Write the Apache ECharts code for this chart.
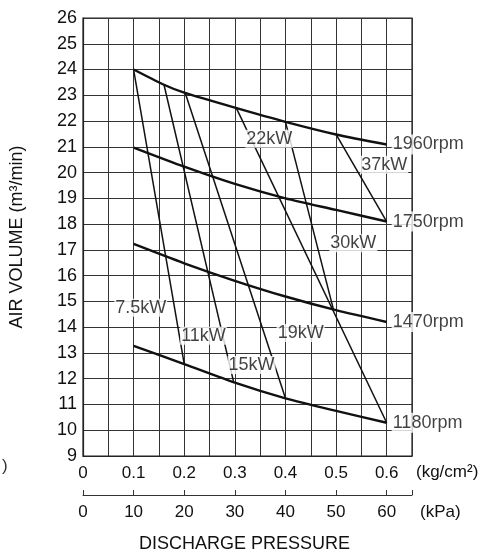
<!DOCTYPE html>
<html><head><meta charset="utf-8">
<script src="https://cdn.jsdelivr.net/npm/echarts@6/dist/echarts.min.js"></script>
<style>html,body{margin:0;padding:0;background:#fff}#c{width:483px;height:553px}</style>
</head><body><div id="c"></div>
<script>
// Discharge pressure (kg/cm2) sample points for each speed curve
const pressure1960 = [0.1, 0.16, 0.2, 0.3, 0.4, 0.5, 0.6];
const volume1960   = [24.0, 23.41, 23.1, 22.52, 21.97, 21.48, 21.09];
const pressureStd  = [0.1, 0.2, 0.3, 0.4, 0.5, 0.6];
const volume1750   = [20.97, 20.23, 19.56, 19.0, 18.55, 18.1];
const volume1470   = [17.23, 16.48, 15.8, 15.19, 14.66, 14.2];
const volume1180   = [13.27, 12.57, 11.85, 11.24, 10.75, 10.29];
const rpmNames = ['1960rpm', '1750rpm', '1470rpm', '1180rpm'];

// motor power boundary lines [pressure, volume]
const line7_5 = [[0.1, 24.0], [0.2, 12.57]];
const line11  = [[0.16, 23.41], [0.298, 11.84]];
const line15  = [[0.202, 23.09], [0.4, 11.24]];
const line22  = [[0.303, 22.5], [0.6, 10.29]];
const line30  = [[0.4, 21.97], [0.495, 14.67]];
const line37  = [[0.5, 21.48], [0.6, 18.1]];

// motor power labels and their anchor values
const kwLabels = ['7.5kW', '11kW', '15kW', '19kW', '22kW', '30kW', '37kW'];
const kwLabelX = [0.114, 0.238, 0.333, 0.430, 0.368, 0.534, 0.595];
const kwLabelY = [14.75, 13.67, 12.53, 13.77, 21.31, 17.26, 20.30];

// axis ticks
const volMin = 9, volMax = 26, volStep = 1;
const kgMax = 0.65, kgStep = 0.05;
const kpaMax = 65, kpaStep = 10;

const FONT = 'Liberation Sans';
const chart = echarts.init(document.getElementById('c'), null, {renderer: 'canvas'});

function zip(xs, ys) { return xs.map((x, i) => [x, ys[i]]); }
const rpmSeriesData = [
  zip(pressure1960, volume1960),
  zip(pressureStd, volume1750),
  zip(pressureStd, volume1470),
  zip(pressureStd, volume1180)
];

const series = [];
rpmSeriesData.forEach((d, i) => {
  series.push({
    type: 'line', name: rpmNames[i], data: d, symbol: 'none', smooth: 0.25,
    lineStyle: {color: '#111', width: 2.4}, z: 3, silent: true
  });
});
[line7_5, line11, line15, line22, line30, line37].forEach(d => {
  series.push({
    type: 'line', data: d, symbol: 'none',
    lineStyle: {color: '#111', width: 1.5}, z: 3, silent: true
  });
});
// rpm end labels
series.push({
  type: 'scatter', symbolSize: 0, z: 5, silent: true,
  data: rpmSeriesData.map((d, i) => ({value: d[d.length - 1], name: rpmNames[i]})),
  label: {show: true, position: 'right', distance: 5, formatter: '{b}',
    color: '#111', fontFamily: FONT, fontSize: 18, backgroundColor: '#fff', padding: [1, 1]}
});
// kW labels
series.push({
  type: 'scatter', symbolSize: 0, z: 5, silent: true,
  data: kwLabels.map((n, i) => ({value: [kwLabelX[i], kwLabelY[i]], name: n})),
  label: {show: true, position: 'inside', formatter: '{b}',
    color: '#111', fontFamily: FONT, fontSize: 18, backgroundColor: '#fff', padding: [0, 1]}
});

const option = {
  animation: false,
  backgroundColor: '#fff',
  grid: {left: 78, top: 18, right: 71, bottom: 97, show: true, borderColor: '#222', borderWidth: 1.2},
  xAxis: [{
    type: 'value', min: 0, max: kgMax, interval: kgStep, position: 'bottom',
    axisLine: {show: true, lineStyle: {color: '#222', width: 1.2}},
    axisTick: {show: false},
    splitLine: {show: true, lineStyle: {color: '#333', width: 1}},
    axisLabel: {
      interval: 0, margin: 9, color: '#111', fontFamily: FONT, fontSize: 17,
      formatter: v => { const k = Math.round(v / kgStep); if (k % 2 !== 0 || k > 12) return ''; return k === 0 ? '0' : (k / 20).toFixed(1); }
    }
  }, {
    type: 'value', min: 0, max: kpaMax, interval: kpaStep, position: 'bottom', offset: 39,
    axisLine: {show: true, lineStyle: {color: '#333', width: 1}},
    axisTick: {show: true, inside: true, length: 5, lineStyle: {color: '#333'}},
    splitLine: {show: false},
    axisLabel: {
      interval: 0, margin: 9, color: '#111', fontFamily: FONT, fontSize: 17,
      formatter: v => v > 60 ? '' : String(v)
    }
  }],
  yAxis: {
    type: 'value', min: volMin, max: volMax, interval: volStep,
    axisLine: {show: true, lineStyle: {color: '#222', width: 1.2}},
    axisTick: {show: false},
    splitLine: {show: true, lineStyle: {color: '#333', width: 1}},
    axisLabel: {margin: 6, color: '#111', fontFamily: FONT, fontSize: 18},
    name: 'AIR VOLUME (m³/min)', nameLocation: 'middle', nameRotate: 90, nameGap: 57,
    nameTextStyle: {color: '#111', fontFamily: FONT, fontSize: 18}
  },
  graphic: [
    {type: 'text', left: 416, top: 464, style: {text: '(kg/cm²)', fill: '#111', font: '17px "Liberation Sans"'}},
    {type: 'text', left: 420, top: 504, style: {text: '(kPa)', fill: '#111', font: '17px "Liberation Sans"'}},
    {type: 'text', left: 139, top: 535, style: {text: 'DISCHARGE PRESSURE', fill: '#111', font: '18px "Liberation Sans"'}},
    {type: 'text', left: 2, top: 458, style: {text: ')', fill: '#333', font: '17px "Liberation Sans"'}}
  ],
  series: series
};
chart.setOption(option);
</script></body></html>
